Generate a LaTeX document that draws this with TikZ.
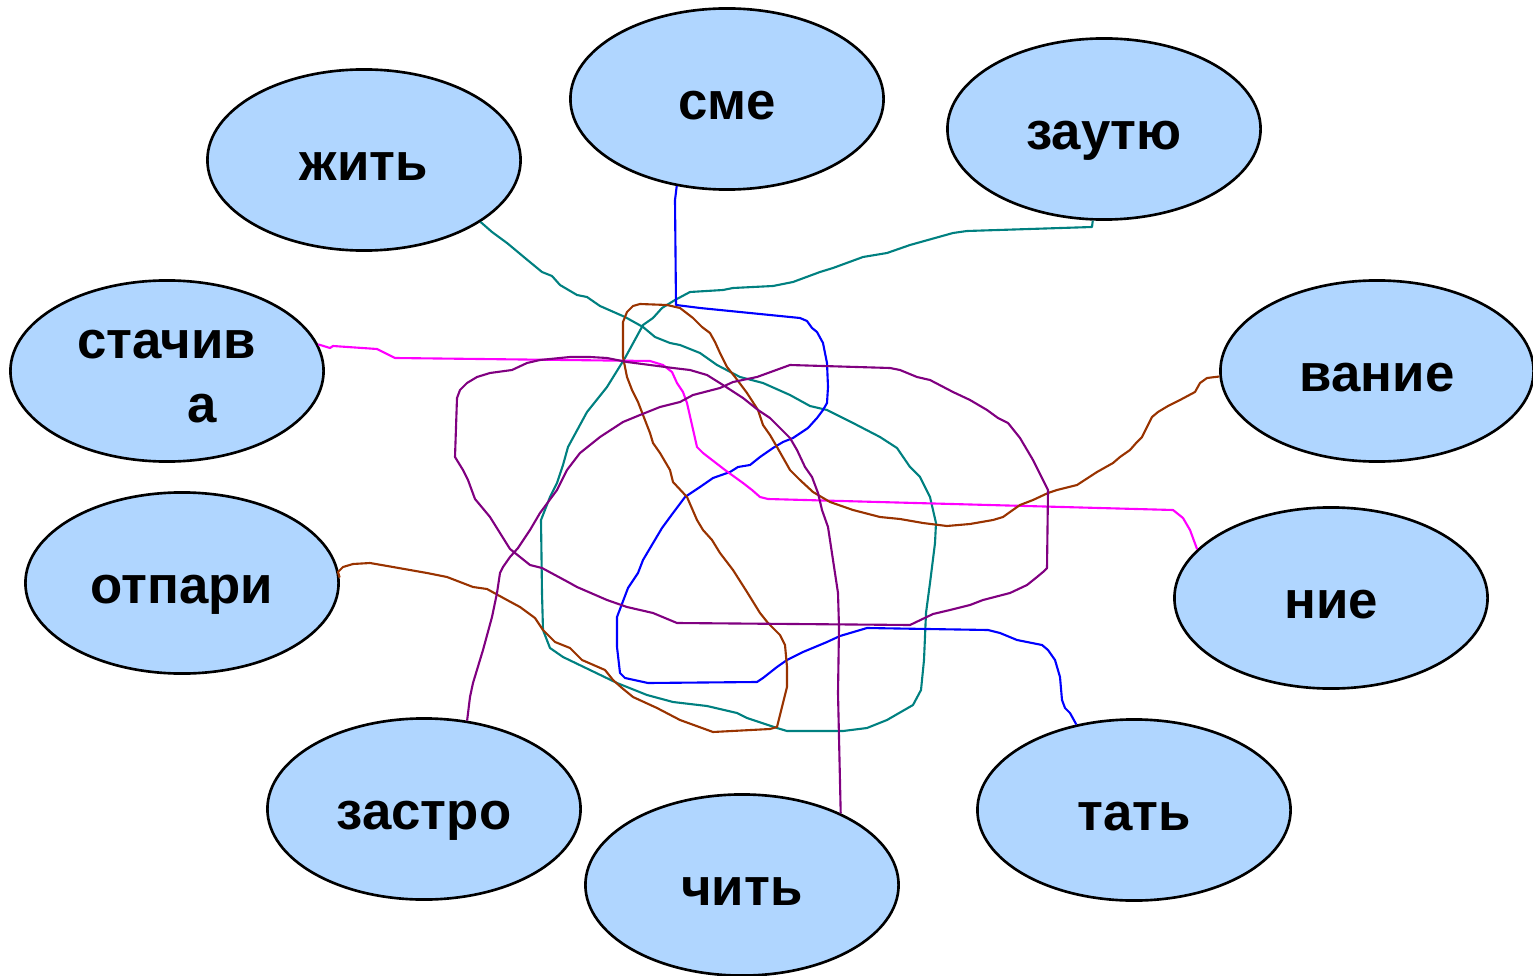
\documentclass[tikz,border=0pt]{standalone}
\usepackage{fontspec}
\setmainfont{Liberation Sans}
\usepackage{tikz}
\usetikzlibrary{positioning}
\usetikzlibrary{arrows,shapes}
\usetikzlibrary{calc}
\definecolor{cellblue}{RGB}{176,214,255}
\definecolor{lineteal}{RGB}{0,128,128}
\definecolor{linebrown}{RGB}{153,51,0}
\definecolor{linepurple}{RGB}{128,0,128}
\definecolor{linepink}{RGB}{255,0,255}
\tikzstyle{wordvertex}=[ellipse,draw,line width=0.75pt,fill=cellblue,minimum width=3.13cm,minimum height=1.81cm,inner sep=0pt,font=\bfseries\fontsize{15}{18.2}\selectfont]
\tikzstyle{tangle}=[line width=0.6pt,line join=round]
\begin{document}
\begin{tikzpicture}[x=0.01cm,y=-0.01cm]
    \useasboundingbox (0,0) rectangle (1533,976);

    \foreach \pos/\name/\word in {{(364,160)/zhit/жить}, {(727,99)/sme/сме}, {(1104,129)/zautyu/заутю}, {(182,583)/otpari/отпари}, {(1377,371)/vanie/вание}, {(1331,598)/nie/ние}, {(424,809)/zastro/застро}, {(742,885)/chit/чить}, {(1134,810)/tat/тать}}
        \node[wordvertex,text height=12.5pt,text depth=1pt] (\name) at \pos {\word};
    \node[wordvertex,align=center] (stachiva) at (167,371) {\rule{0pt}{11.5pt}стачив\\\hspace*{20pt}а};

%tangled lines
    \draw[tangle,lineteal] (zhit.-28) -- (492,232) -- (507,243) -- (525,258) -- (542,272) -- (552,276) -- (560,285) -- (577,295) -- (587,297) -- (600,306) -- (625,317) -- (643,327) -- (655,337) -- (670,343) -- (680,345) -- (700,353) -- (717,365) -- (740,377) -- (763,383) -- (790,395) -- (810,406) -- (827,410) -- (853,423) -- (880,437) -- (897,448) -- (910,467) -- (920,477) -- (930,497) -- (936,523) -- (935,543) -- (930,583) -- (926,613) -- (924,660) -- (921,690) -- (913,705) -- (887,720) -- (867,728) -- (843,731) -- (787,731) -- (777,728) -- (747,718) -- (737,713) -- (707,706) -- (673,702) -- (647,695) -- (617,683) -- (590,670) -- (563,657) -- (550,648) -- (543,630) -- (542,593) -- (541,520) -- (550,497) -- (557,483) -- (563,465) -- (568,447) -- (587,412) -- (607,387) -- (625,358) -- (643,325) -- (653,318) -- (662,308) -- (675,300) -- (690,292) -- (723,290) -- (733,288) -- (773,286) -- (793,282) -- (820,272) -- (833,268) -- (863,257) -- (887,253) -- (910,245) -- (953,233) -- (967,231) -- (1092,227) -- (zautyu.-97);

    \draw[tangle,blue] (sme.-120) -- (675,200) -- (676,305) -- (700,308) -- (800,318) -- (807,321) -- (812,328) -- (817,332) -- (823,343) -- (827,363) -- (828,387) -- (827,403) -- (823,410) -- (817,418) -- (808,428) -- (793,438) -- (783,442) -- (773,448) -- (760,457) -- (750,465) -- (738,467) -- (730,472) -- (713,478) -- (700,487) -- (685,497) -- (673,513) -- (662,528) -- (643,560) -- (638,573) -- (628,588) -- (617,617) -- (617,647) -- (620,673) -- (625,678) -- (648,683) -- (757,682) -- (763,678) -- (777,667) -- (787,660) -- (803,652) -- (827,642) -- (840,636) -- (867,628) -- (988,630) -- (1000,633) -- (1017,640) -- (1042,645) -- (1048,650) -- (1055,660) -- (1060,677) -- (1062,700) -- (1065,708) -- (1070,713) -- (tat.124);

    \draw[tangle,linepink] (stachiva.10) -- (330,348) -- (333,346) -- (377,349) -- (383,352) -- (395,358) -- (650,361) -- (663,365) -- (672,372) -- (677,383) -- (683,392) -- (687,403) -- (697,447) -- (703,453) -- (725,470) -- (743,483) -- (752,490) -- (760,497) -- (768,499) -- (1173,510) -- (1183,518) -- (1190,530) -- (nie.160);

    \draw[tangle,linebrown] (vanie.-178) -- (1207,378) -- (1200,383) -- (1195,392) -- (1180,400) -- (1168,406) -- (1158,412) -- (1152,417) -- (1147,427) -- (1142,437) -- (1137,442) -- (1130,450) -- (1120,457) -- (1113,463) -- (1097,472) -- (1077,485) -- (1057,490) -- (1048,493) -- (1033,500) -- (1020,505) -- (1010,512) -- (1003,517) -- (993,520) -- (970,524) -- (947,526) -- (923,523) -- (900,519) -- (880,517) -- (853,510) -- (830,502) -- (813,492) -- (800,480) -- (790,470) -- (777,447) -- (770,435) -- (763,425) -- (758,410) -- (747,393) -- (735,377) -- (727,367) -- (720,353) -- (715,342) -- (710,333) -- (702,327) -- (693,318) -- (680,308) -- (667,305) -- (640,304) -- (633,306) -- (627,312) -- (623,322) -- (623,357) -- (627,377) -- (632,390) -- (638,402) -- (643,415) -- (650,433) -- (653,443) -- (660,453) -- (670,470) -- (673,482) -- (687,497) -- (697,520) -- (703,530) -- (712,540) -- (720,553) -- (733,570) -- (747,592) -- (760,613) -- (768,623) -- (780,635) -- (785,645) -- (787,667) -- (787,687) -- (782,707) -- (777,727) -- (770,729) -- (713,732) -- (680,720) -- (657,708) -- (633,697) -- (622,688) -- (613,680) -- (605,670) -- (582,660) -- (570,648) -- (555,642) -- (543,630) -- (535,618) -- (520,607) -- (507,600) -- (487,589) -- (473,587) -- (447,577) -- (427,573) -- (393,567) -- (370,563) -- (353,564) -- (343,567) -- (338,572) -- (otpari.2);

    \draw[tangle,linepurple] (zastro.64) -- (470,697) -- (473,683) -- (483,650) -- (492,617) -- (497,593) -- (500,573) -- (503,567) -- (510,557) -- (518,548) -- (530,530) -- (540,513) -- (557,490) -- (567,470) -- (580,453) -- (600,437) -- (623,422) -- (640,415) -- (660,407) -- (680,402) -- (693,395) -- (720,388) -- (733,382) -- (757,377) -- (790,365) -- (890,368) -- (900,370) -- (917,377) -- (930,380) -- (953,392) -- (970,400) -- (987,410) -- (998,418) -- (1008,423) -- (1020,438) -- (1033,460) -- (1043,480) -- (1048,490) -- (1047,568) -- (1043,572) -- (1037,577) -- (1027,585) -- (1010,593) -- (983,600) -- (970,605) -- (950,610) -- (933,614) -- (910,625) -- (677,623) -- (653,613) -- (627,607) -- (607,600) -- (577,587) -- (568,582) -- (555,575) -- (542,568) -- (530,565) -- (510,549) -- (490,517) -- (475,499) -- (468,480) -- (463,470) -- (455,457) -- (457,398) -- (460,390) -- (467,383) -- (477,377) -- (490,373) -- (512,370) -- (527,363) -- (540,360) -- (570,357) -- (590,357) -- (607,358) -- (627,362) -- (673,368) -- (690,370) -- (707,375) -- (723,385) -- (743,398) -- (758,410) -- (770,418) -- (780,428) -- (790,438) -- (797,450) -- (805,467) -- (812,477) -- (818,493) -- (822,510) -- (828,527) -- (833,560) -- (838,593) -- (839,627) -- (838,693) -- (chit.36);

\end{tikzpicture}
\end{document}
